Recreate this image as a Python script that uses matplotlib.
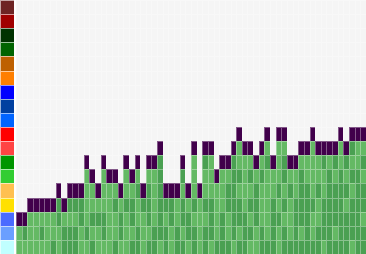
import numpy as np
import matplotlib
matplotlib.use("Agg")
import matplotlib.pyplot as plt
from matplotlib.colors import ListedColormap

# one colour per row (legend column on the left), top to bottom
row_colors = ["#6e2424", "#a00000", "#003200", "#006400", "#be6000", "#ff7f00",
              "#0000ff", "#0040a0", "#0064ff", "#ff0000", "#ff4444", "#009600",
              "#32cd32", "#ffc050", "#ffe000", "#4a6bff", "#6a9fff", "#c0ffff"]

# filled cells per column (counted from the bottom, top cell included)
stack_depth = [3, 3, 4, 4, 4, 4, 4, 5, 4, 5, 5, 5, 7, 6, 5, 7, 6, 6, 5, 7, 6,
               7, 5, 7, 7, 8, 5, 5, 5, 7, 5, 8, 5, 8, 8, 6, 7, 7, 8, 9, 8, 8,
               7, 8, 9, 7, 9, 9, 7, 7, 8, 8, 9, 8, 8, 8, 8, 9, 8, 9, 9, 9]

# shade of the green cells under the top one, top to bottom (L light, D dark)
shades = ["LL", "DL", "LLL", "LLL", "LDL", "LLL", "LLD", "DDLL", "LDD", "DLDD",
          "DLDD", "DDLL", "LLLLDL", "LLDLD", "LDLL", "LLLDDL", "LLLLL", "LDLLD",
          "LDDL", "LLDLLL", "LDDLD", "LDLLDD", "DLLL", "LDDDLD", "LLLLDD",
          "DDDDDDL", "DLDD", "DDLL", "LLDD", "DLDDLD", "LDDL", "LLLDLDD", "LLLL",
          "DLLDLDD", "LLLDDDL", "LLLLD", "LLLDDD", "LDDLLD", "DDDDDDL",
          "LLDLDDLD", "LLLLDDD", "LDLDLDL", "LDDDLL", "LDLLLDD", "LDLLLLLD",
          "LLDDDD", "LLLDLDLL", "LDDLDLDD", "LDLLLD", "LLDDDD", "LDDDDLD",
          "LLDDDDD", "LLLLDLLD", "LLDLLDD", "DLLDDDL", "LDDDDDD", "DLDDDLD",
          "LLDDDDDD", "DLDLDDD", "DLDLDDDL", "LLDDDDDD", "LDLDDLDD"]

n_rows = len(row_colors)
n_cols = len(stack_depth)

# 0 empty, 1 light green, 2 dark green, 3 top of stack
grid = np.zeros((n_rows, n_cols))
for c in range(n_cols):
    top = n_rows - stack_depth[c]
    grid[top, c] = 3
    for i, s in enumerate(shades[c]):
        grid[top + 1 + i, c] = 1 if s == "L" else 2

fig = plt.figure(figsize=(3.66, 2.54), dpi=100)
fig.patch.set_facecolor("white")

ax_key = fig.add_axes([0, 0, 14 / 366, 1])
ax_key.pcolormesh(np.arange(n_rows).reshape(-1, 1), cmap=ListedColormap(row_colors),
                  vmin=-0.5, vmax=n_rows - 0.5, edgecolors=(1, 1, 1, 0.6), linewidth=0.6)
ax_key.set_ylim(n_rows, 0)
ax_key.axis("off")

ax = fig.add_axes([16 / 366, 0, 350 / 366, 1])
cmap = ListedColormap(["#f5f5f5", "#64b964", "#4aa052", "#41004b"])
ax.pcolormesh(grid, cmap=cmap, vmin=-0.5, vmax=3.5,
              edgecolors=(1, 1, 1, 0.35), linewidth=0.6)
ax.set_xlim(0, n_cols)
ax.set_ylim(n_rows, 0)
ax.axis("off")

fig.savefig("out.png", dpi=100, facecolor="white")
